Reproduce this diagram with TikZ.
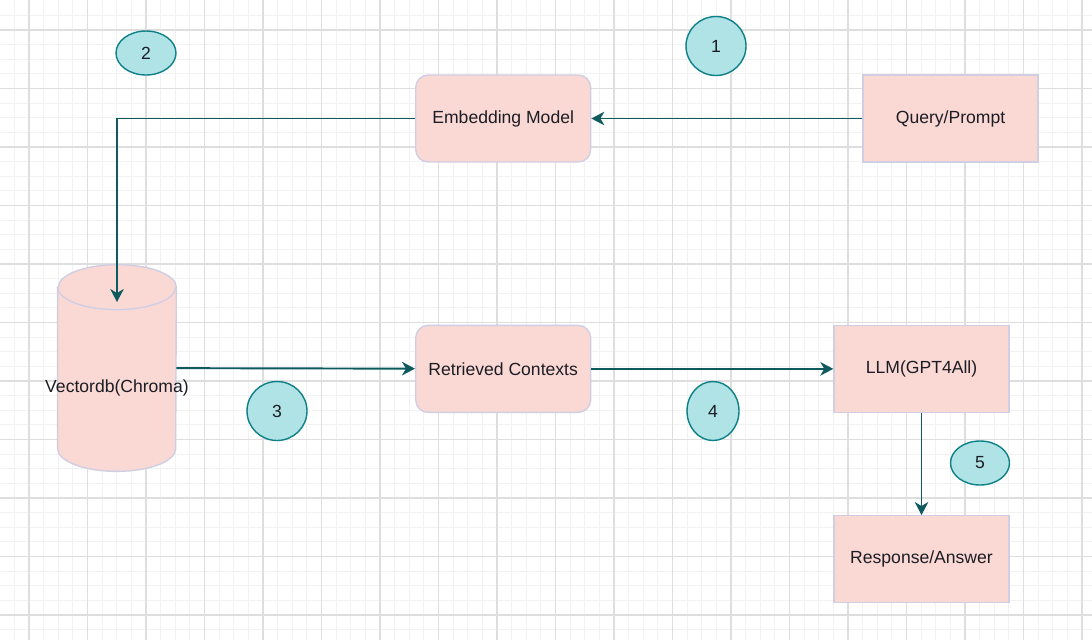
\documentclass[tikz,border=0pt]{standalone}
\usepackage{fontspec}
\setmainfont{Liberation Sans}
\usetikzlibrary{arrows.meta,positioning,shapes.geometric}
\definecolor{boxfill}{HTML}{FAD9D5}
\definecolor{boxline}{HTML}{D0CEE2}
\definecolor{badgefill}{HTML}{B0E3E6}
\definecolor{badgeline}{HTML}{0E8088}
\definecolor{arrline}{HTML}{0E5A5E}
\definecolor{txt}{HTML}{1C1C24}
\begin{document}
\begin{tikzpicture}[
      x=0.02cm,y=-0.02cm,
      font=\fontsize{10}{12}\selectfont,text=txt,
      minorgrid/.style={draw=black!5,line width=0.5pt},
      majorgrid/.style={draw=black!13,line width=0.6pt},
      box/.style={draw=boxline,fill=boxfill,line width=0.8pt,align=center,
                  minimum width=3.5cm,minimum height=1.74cm,inner sep=0pt},
      roundbox/.style={box,rounded corners=0.25cm},
      dbslot/.style={minimum width=2.36cm,minimum height=4.12cm,inner sep=0pt},
      dbshape/.style={draw=boxline,fill=boxfill,line width=0.8pt},
      dbcap/.style={x radius=1.18cm,y radius=0.45cm},
      badge/.style={ellipse,draw=badgeline,fill=badgefill,line width=0.8pt,
                    inner sep=0pt,minimum width=1.2cm,minimum height=1.18cm},
      arr/.style={-{Stealth[length=2.6mm,width=2.7mm,inset=0.8mm]},
                  draw=arrline,line width=1.1pt}]
    % grid background
    \useasboundingbox (0,0) rectangle (1092,640);
    \fill[white] (0,0) rectangle (1092,640);
    \foreach \i in {0,...,74} {
      \draw[minorgrid] ({14.375+14.625*\i},0) -- ++(0,640);
    }
    \foreach \i in {0,...,43} {
      \draw[minorgrid] (0,{15.375+14.625*\i}) -- ++(1092,0);
    }
    \foreach \i in {0,...,18} {
      \draw[majorgrid] ({29+58.5*\i},0) -- ++(0,640);
    }
    \foreach \i in {0,...,10} {
      \draw[majorgrid] (0,{30+58.5*\i}) -- ++(1092,0);
    }
    % blocks
    \node[box] (query) at (950.5,118.5) {Query/Prompt};
    \node[roundbox,left=5.42cm of query] (embed) {Embedding Model};
    \node[roundbox,below=3.24cm of embed] (context) {Retrieved Contexts};
    \node[box,right=4.84cm of context] (llm) {LLM(GPT4All)};
    \node[box,below=2.04cm of llm] (answer) {Response/Answer};
    % vector store (cylinder)
    \node[dbslot] (vdb) at (117,368) {};
    \filldraw[dbshape] ([yshift=-0.45cm]vdb.north west)
      -- ([yshift=0.45cm]vdb.south west)
      arc[start angle=180,end angle=360,dbcap]
      -- ([yshift=-0.45cm]vdb.north east)
      arc[start angle=0,end angle=180,dbcap] -- cycle;
    \draw[dbshape,fill=none] ([yshift=-0.45cm]vdb.north west)
      arc[start angle=180,end angle=360,dbcap];
    \node[anchor=center] (vdbtext) at ([yshift=-0.4cm]vdb.center) {Vectordb(Chroma)};
    % step numbers
    \node[badge] (one) at (716,46) {1};
    \node[badge,minimum height=0.88cm] (two) at (146,53) {2};
    \node[badge] (three) at (277,411) {3};
    \node[badge,minimum width=1.04cm] (four) at (713,411) {4};
    \node[badge,minimum width=1.18cm,minimum height=0.88cm] (five) at (980,463) {5};
    % flow
    \draw[arr] (query)--(embed);
    \draw[arr] (embed.west)-|([yshift=1.32cm]vdb.center);
    \draw[arr] (vdb)--(context);
    \draw[arr] (context)--(llm);
    \draw[arr] (llm)--(answer);
  \end{tikzpicture}
\end{document}
